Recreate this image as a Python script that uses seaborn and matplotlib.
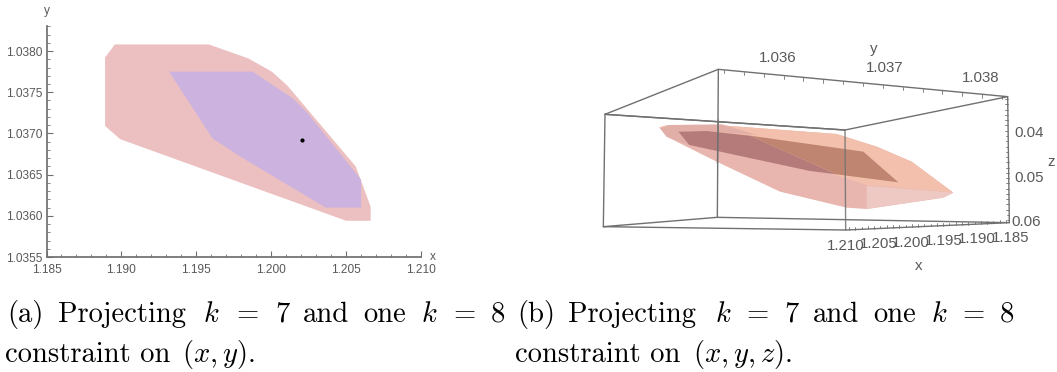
import matplotlib
matplotlib.use("Agg")
import matplotlib.pyplot as plt
import numpy as np
import pandas as pd
import seaborn as sns

# panel (a), projection on (x, y)
outer_x = [1.18891, 1.18956, 1.19583, 1.19848, 1.20004, 1.20108, 1.20564, 1.20664, 1.20664, 1.20500, 1.18992, 1.18891]
outer_y = [1.03792, 1.03808, 1.03808, 1.03791, 1.03775, 1.03758, 1.03660, 1.03611, 1.03594, 1.03594, 1.03693, 1.03709]
inner_x = [1.19318, 1.19877, 1.20148, 1.20237, 1.20600, 1.20600, 1.20364, 1.19792, 1.19608]
inner_y = [1.03775, 1.03775, 1.03742, 1.03726, 1.03644, 1.03610, 1.03610, 1.03672, 1.03694]
point_x = [1.20206]
point_y = [1.03692]
x_ticks = [1.185, 1.190, 1.195, 1.200, 1.205, 1.210]
y_ticks = [1.0355, 1.0360, 1.0365, 1.0370, 1.0375, 1.0380]

body_u = [208, 235, 380, 740, 860, 965, 1090, 1060, 830, 770, 570, 380, 230]
body_v = [292, 285, 285, 312, 350, 395, 488, 503, 537, 533, 485, 395, 320]
top_u = [208, 235, 380, 740, 860, 965, 1090, 830, 720, 420, 230]
top_v = [292, 285, 285, 312, 350, 395, 488, 465, 430, 345, 305]
side_u = [830, 1090, 1060, 830]
side_v = [467, 488, 503, 537]
sliver_u = [210, 240, 395, 500, 350, 265, 298, 230]
sliver_v = [295, 285, 283, 315, 303, 305, 345, 320]
flat_left_u = [265, 350, 480, 740, 660, 298]
flat_left_v = [305, 303, 317, 433, 423, 345]
flat_right_u = [480, 820, 925, 740]
flat_right_v = [317, 365, 457, 433]
y3_labels = ["1.036", "1.037", "1.038"]
y3_u = [562, 885, 1172]
y3_v = [85, 115, 143]
z3_labels = ["0.04", "0.05", "0.06"]
z3_u = [1316, 1316, 1308]
z3_v = [308, 443, 577]
x3_labels = ["1.210", "1.205", "1.200", "1.195", "1.190", "1.185"]
x3_u = [767, 865, 963, 1061, 1160, 1262]
x3_v = [648, 643, 640, 634, 628, 624]

# captions
cap_a_words = ["(a)", "Projecting", "$k$", "=", "7", "and", "one", "$k$", "=", "8"]
cap_a_left = [7, 58, 203, 236, 275, 303, 363, 421, 453, 491]
cap_b_words = ["(b)", "Projecting", "$k$", "=", "7", "and", "one", "$k$", "=", "8"]
cap_b_left = [517, 568, 715, 746, 784, 813, 873, 931, 962, 1000]

TEXT = "#595959"
LINE = "#707070"

sns.set_theme(style="ticks", rc={"axes.edgecolor": LINE, "xtick.color": LINE, "ytick.color": LINE,
                                 "mathtext.fontset": "cm"})
plt.rcParams["font.family"] = ["Liberation Sans", "DejaVu Sans"]

fig = plt.figure(figsize=(10.57, 3.72), dpi=100)
W, H = 1057, 372

def make_left():
    ax = fig.add_axes([46.5 / W, 1 - 257 / H, (421 - 46.5) / W, (257 - 25.5) / H])
    ax.fill(outer_x, outer_y, color="#ecbfc0", lw=0)
    ax.fill(inner_x, inner_y, color="#ccb3df", lw=0)
    sns.scatterplot(x=point_x, y=point_y, color="black", s=9, linewidth=0, ax=ax, zorder=5)
    ax.set_xlim(1.185, 1.210)
    ax.set_ylim(1.0355, 1.03831)
    ax.set_xticks(x_ticks)
    ax.set_xticklabels([f"{t:.3f}" for t in x_ticks], fontsize=8.6, color=TEXT)
    ax.set_yticks(y_ticks)
    ax.set_yticklabels([f"{t:.4f}" for t in y_ticks], fontsize=8.6, color=TEXT)
    ax.set_xticks(np.arange(1.185, 1.2101, 0.001), minor=True)
    ax.set_yticks(np.arange(1.0355, 1.03831, 0.0001), minor=True)
    ax.tick_params(axis="x", which="major", direction="in", length=4, width=0.8, pad=5)
    ax.tick_params(axis="y", which="major", direction="in", length=4, width=0.8, pad=3)
    ax.tick_params(axis="both", which="minor", direction="in", length=2, width=0.6)
    ax.patch.set_alpha(0)
    sns.despine(ax=ax)
    ax.text(1.2108, 1.0355, "x", fontsize=8.6, color=TEXT, ha="center", va="center")
    ax.text(1.185, 1.03848, "y", fontsize=8.6, color=TEXT, ha="center", va="center")

def make_right():
    ax = fig.add_axes([590 / W, 1 - 280 / H, 467 / W, 250 / H])
    ax.set_xlim(0, 1401)
    ax.set_ylim(750, 0)
    ax.axis("off")

    # box edges behind the shape
    back = pd.DataFrame({
        "u": [45, 385, 1253, 765, 45, 40, 382, 1258, 767, 40],
        "v": [253, 118, 200, 300, 253, 590, 562, 578, 600, 590],
    })
    sns.lineplot(data=back, x="u", y="v", sort=False, estimator=None, color=LINE, lw=1.0, ax=ax)
    ax.plot([385, 382], [118, 562], color=LINE, lw=1.0)
    ax.plot([1253, 1258], [200, 578], color=LINE, lw=1.0)

    ax.fill(body_u, body_v, color="#e8b6ae", lw=0)
    ax.fill(top_u, top_v, color="#f2c0ac", lw=0)
    ax.fill(side_u, side_v, color="#eec8c3", lw=0)
    ax.fill(sliver_u, sliver_v, color="#e2aea8", lw=0)
    ax.fill(flat_left_u, flat_left_v, color="#b57b7a", lw=0)
    ax.fill(flat_right_u, flat_right_v, color="#bf8570", lw=0)

    # front vertical and the shape seen through it
    ax.plot([765, 767], [300, 600], color=LINE, lw=1.0, alpha=0.85)
    ax.plot([385, 382], [270, 400], color=LINE, lw=1.0, alpha=0.7)
    ax.plot([45, 765], [253, 300], color=LINE, lw=1.0)

    # ticks on the y, x and z edges
    for f in np.linspace(0.02, 0.98, 15):
        u = 385 + f * (1253 - 385)
        v = 118 + f * (200 - 118)
        ax.plot([u, u], [v, v + 10], color=LINE, lw=0.6)
    for f in np.linspace(0.02, 0.98, 26):
        u = 767 + f * (1258 - 767)
        v = 600 + f * (578 - 600)
        ax.plot([u, u], [v, v - 8], color=LINE, lw=0.6)
    for f in np.linspace(0.02, 0.98, 24):
        u = 1253 + f * (1258 - 1253)
        v = 200 + f * (578 - 200)
        ax.plot([u, u - 8], [v, v], color=LINE, lw=0.6)

    for s, u, v in zip(y3_labels, y3_u, y3_v):
        ax.text(u, v, s, fontsize=10.8, color=TEXT, ha="center", va="center")
    for s, u, v in zip(z3_labels, z3_u, z3_v):
        ax.text(u, v, s, fontsize=10.8, color=TEXT, ha="center", va="center")
    for s, u, v in zip(x3_labels, x3_u, x3_v):
        ax.text(u, v, s, fontsize=10.8, color=TEXT, ha="center", va="center")
    ax.text(852, 58, "y", fontsize=10.8, color=TEXT, ha="center", va="center")
    ax.text(1384, 396, "z", fontsize=10.8, color=TEXT, ha="center", va="center")
    ax.text(985, 708, "x", fontsize=10.8, color=TEXT, ha="center", va="center")

def make_captions():
    kw = dict(fontsize=20.6, color="black", va="baseline", family="cmr10", ha="left")
    for words, lefts in [(cap_a_words, cap_a_left), (cap_b_words, cap_b_left)]:
        for w, x in zip(words, lefts):
            fig.text(x / W, 1 - 322 / H, w, **kw)
    fig.text(5 / W, 1 - 362 / H, "constraint on", **kw)
    fig.text(182 / W, 1 - 362 / H, r"$(x, y)$.", **kw)
    fig.text(515 / W, 1 - 362 / H, "constraint on", **kw)
    fig.text(693 / W, 1 - 362 / H, r"$(x, y, z)$.", **kw)

if __name__ == "__main__":
    make_left()
    make_right()
    make_captions()
    fig.savefig("out.png", dpi=100)
    plt.close(fig)
